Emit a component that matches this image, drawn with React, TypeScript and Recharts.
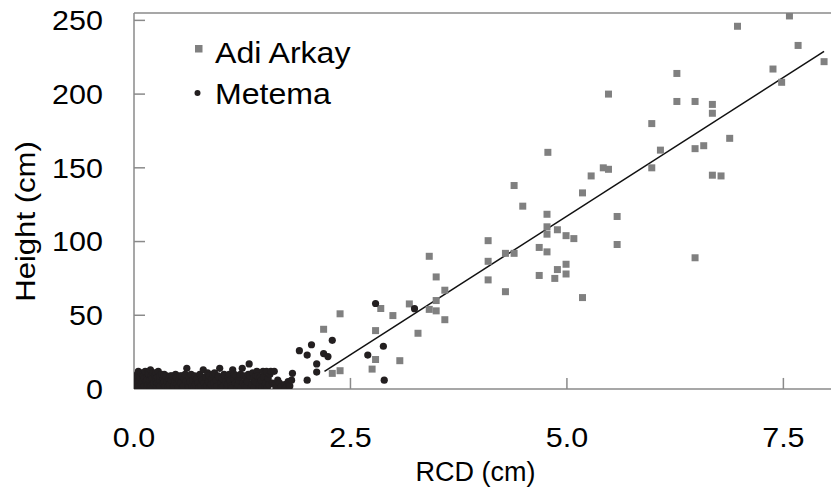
import { Legend, ReferenceLine, Scatter, ScatterChart, XAxis, YAxis } from "recharts";

// RCD (cm), Height (cm)
const adiArkay: [number, number][] = [
  [2.19, 40.5], [2.29, 10.6], [2.38, 51], [2.38, 12.4], [2.75, 13.5], [2.79, 20], [2.79, 39.6],
  [2.85, 54.6], [2.99, 49.8], [3.07, 19.2], [3.18, 57.7], [3.28, 37.8], [3.41, 90], [3.41, 54],
  [3.49, 76], [3.49, 60], [3.49, 53], [3.59, 67], [3.59, 47], [4.09, 100.6], [4.09, 86.6],
  [4.09, 74], [4.29, 92], [4.29, 66], [4.39, 138], [4.39, 92], [4.49, 124], [4.68, 96],
  [4.68, 77], [4.78, 160.5], [4.77, 118.5], [4.77, 110], [4.77, 105], [4.77, 93], [4.89, 108],
  [4.89, 81], [4.86, 75], [4.99, 104], [4.99, 84.6], [4.99, 78], [5.08, 102], [5.18, 133],
  [5.18, 62], [5.28, 144.5], [5.42, 150], [5.48, 149], [5.48, 200], [5.58, 117], [5.58, 98],
  [5.98, 180], [5.98, 150], [6.08, 162], [6.27, 214], [6.27, 195], [6.48, 195], [6.48, 163],
  [6.48, 89], [6.58, 165], [6.68, 193], [6.68, 187], [6.68, 145], [6.78, 144.5], [6.88, 170],
  [6.97, 246], [7.38, 217], [7.48, 208], [7.57, 253], [7.67, 233], [7.97, 222]
];

const metema: [number, number][] = [
  [0.01, 1], [0.01, 5], [0.02, 3], [0.02, 9], [0.03, 7], [0.04, 10], [0.04, 1.5], [0.05, 5],
  [0.05, 12], [0.05, 8], [0.06, 2], [0.06, 6], [0.07, 8], [0.08, 11], [0.08, 3], [0.09, 4],
  [0.1, 6], [0.1, 1], [0.1, 10], [0.11, 9], [0.12, 2], [0.12, 7], [0.13, 12], [0.14, 5],
  [0.15, 8], [0.15, 1], [0.15, 6], [0.16, 3], [0.16, 11], [0.17, 10], [0.18, 6], [0.18, 2],
  [0.19, 13], [0.2, 2], [0.2, 9], [0.21, 7], [0.22, 11], [0.22, 1], [0.23, 4], [0.24, 9],
  [0.25, 5], [0.25, 11], [0.25, 7], [0.26, 1.5], [0.27, 8], [0.27, 4], [0.28, 12], [0.29, 3],
  [0.3, 6], [0.3, 1.5], [0.3, 9], [0.32, 10], [0.33, 4], [0.34, 7], [0.35, 5], [0.35, 10],
  [0.36, 2], [0.37, 9], [0.38, 5], [0.39, 1], [0.4, 7], [0.41, 3], [0.42, 9], [0.43, 6],
  [0.44, 9], [0.45, 1], [0.46, 2], [0.47, 5], [0.48, 10], [0.49, 8], [0.5, 3], [0.51, 1],
  [0.52, 6], [0.53, 9], [0.54, 4], [0.55, 9], [0.56, 1], [0.57, 2], [0.58, 7], [0.59, 10],
  [0.6, 5], [0.61, 14], [0.62, 3], [0.63, 1], [0.64, 8], [0.65, 5], [0.66, 10], [0.67, 2],
  [0.68, 6], [0.69, 1], [0.7, 9], [0.71, 3], [0.72, 6], [0.73, 7], [0.74, 4], [0.75, 1],
  [0.76, 10], [0.77, 2], [0.78, 8], [0.79, 6], [0.8, 13], [0.81, 4], [0.82, 1], [0.83, 8],
  [0.84, 2], [0.85, 11], [0.86, 5], [0.87, 9], [0.88, 1], [0.89, 3], [0.9, 7], [0.91, 10],
  [0.92, 4], [0.93, 11], [0.94, 1], [0.95, 6], [0.96, 2], [0.97, 9], [0.98, 8], [0.99, 14],
  [1.0, 4], [1.01, 1], [1.02, 7], [1.03, 2], [1.04, 10], [1.05, 9], [1.06, 5], [1.07, 1],
  [1.08, 3], [1.09, 8], [1.1, 10], [1.11, 6], [1.12, 2], [1.13, 1], [1.14, 13], [1.15, 7],
  [1.16, 10], [1.17, 4], [1.18, 9], [1.19, 1], [1.2, 3], [1.21, 6], [1.22, 8], [1.23, 10],
  [1.24, 1], [1.25, 14], [1.26, 4], [1.27, 9], [1.28, 2], [1.29, 7], [1.3, 1], [1.31, 5],
  [1.32, 10], [1.33, 17], [1.34, 9], [1.35, 1], [1.36, 3], [1.37, 11], [1.38, 7], [1.39, 1],
  [1.4, 5], [1.41, 9], [1.42, 12], [1.43, 9], [1.44, 1], [1.45, 3], [1.46, 8], [1.47, 6],
  [1.48, 1], [1.49, 12], [1.5, 8], [1.51, 2], [1.52, 4], [1.53, 12], [1.54, 1], [1.55, 7],
  [1.56, 3], [1.57, 10], [1.58, 12], [1.6, 4], [1.62, 12], [1.63, 3], [1.64, 1], [1.66, 6],
  [1.68, 4], [1.7, 1.5], [1.74, 3], [1.75, 0.8], [1.78, 5], [1.79, 3], [1.8, 2], [1.82, 6],
  [1.83, 10.6], [1.91, 26], [2.0, 23], [2.0, 6], [2.05, 30], [2.11, 17], [2.11, 11.5],
  [2.19, 24], [2.24, 22], [2.29, 33], [2.7, 23], [2.79, 58], [2.88, 29], [2.89, 6], [3.24, 54.5]
];

// fitted line end points
const trendRcd = [2.2, 7.97];
const trendHeight = [12, 229];

const xTicks = [0, 2.5, 5, 7.5];
const yTicks = [0, 50, 100, 150, 200, 250];

const FONT = "'Liberation Sans', Arial, sans-serif";
const AXIS = "#8a8a8a";
const GREY = "#808080";
const DARK = "#231f20";

const adiData = adiArkay.map(([rcd, height]) => ({ rcd, height }));
const metemaData = metema.map(([rcd, height]) => ({ rcd, height }));

type TickProps = { x?: number; y?: number; payload?: { value: number } };

function XTick({ x = 0, y = 0, payload }: TickProps) {
  return (
    <g transform={`translate(${x} ${y}) scale(1.09 1)`}>
      <text x={0} y={0} dy="0.71em" textAnchor="middle" fontFamily={FONT} fontSize={28} fill="#000">
        {payload ? payload.value.toFixed(1) : ""}
      </text>
    </g>
  );
}

function YTick({ x = 0, y = 0, payload }: TickProps) {
  return (
    <g transform={`translate(${x} ${y}) scale(1.09 1)`}>
      <text x={0} y={0} dy="0.355em" textAnchor="end" fontFamily={FONT} fontSize={28} fill="#000">
        {payload ? payload.value : ""}
      </text>
    </g>
  );
}

function SquareDot({ cx, cy }: { cx?: number; cy?: number }) {
  if (cx == null || cy == null) return null;
  return <rect x={cx - 3.5} y={cy - 3.5} width={7} height={7} fill={GREY} />;
}

function RoundDot({ cx, cy }: { cx?: number; cy?: number }) {
  if (cx == null || cy == null) return null;
  return <circle cx={cx} cy={cy} r={3.6} fill={DARK} />;
}

function LegendBox() {
  return (
    <svg width={200} height={90} style={{ display: "block" }}>
      <rect x={15} y={15} width={7.5} height={7.5} fill={GREY} />
      <g transform="translate(35 33.3) scale(1.07 1)">
        <text x={0} y={0} fontFamily={FONT} fontSize={30} fill="#000">Adi Arkay</text>
      </g>
      <circle cx={17.5} cy={63} r={3} fill={DARK} />
      <g transform="translate(35 74) scale(1.07 1)">
        <text x={0} y={0} fontFamily={FONT} fontSize={30} fill="#000">Metema</text>
      </g>
    </svg>
  );
}

function YTitle({ viewBox }: { viewBox?: { x: number; y: number; width: number; height: number } }) {
  if (!viewBox) return null;
  const cx = viewBox.x + 25;
  const cy = viewBox.y + viewBox.height / 2 + 20.5;
  return (
    <g transform={`translate(${cx} ${cy}) rotate(-90) scale(1.11 1)`}>
      <text x={0} y={0} textAnchor="middle" dominantBaseline="central" fontFamily={FONT} fontSize={28} fill="#000">
        Height (cm)
      </text>
    </g>
  );
}

function XTitle({ viewBox }: { viewBox?: { x: number; y: number; width: number; height: number } }) {
  if (!viewBox) return null;
  return (
    <text
      x={viewBox.x + viewBox.width / 2 - 7}
      y={viewBox.y + viewBox.height - 14}
      textAnchor="middle"
      fontFamily={FONT}
      fontSize={27}
      fill="#000"
    >
      RCD (cm)
    </text>
  );
}

export default function App() {
  return (
    <div style={{ position: "absolute", left: 0, top: 0, width: 831, height: 495, background: "#fff" }}>
      <ScatterChart width={831} height={495} margin={{ top: 13, right: 0, bottom: 0, left: 0 }}>
        <XAxis
          type="number"
          dataKey="rcd"
          domain={[0, 8.05]}
          ticks={xTicks}
          allowDataOverflow
          height={106}
          tickSize={0}
          tickMargin={38}
          axisLine={{ stroke: AXIS, strokeWidth: 1.5 }}
          tick={<XTick />}
          label={<XTitle />}
        />
        <YAxis
          type="number"
          dataKey="height"
          domain={[0, 255]}
          ticks={yTicks}
          allowDataOverflow
          width={134}
          tickSize={0}
          tickMargin={31}
          axisLine={{ stroke: AXIS, strokeWidth: 1.5 }}
          tick={<YTick />}
          label={<YTitle />}
        />
        <ReferenceLine y={255} stroke={AXIS} strokeWidth={1.5} />
        {xTicks.slice(1).map((t) => (
          <ReferenceLine key={`xt${t}`} segment={[{ x: t, y: 0 }, { x: t, y: 7.5 }]} stroke={AXIS} strokeWidth={1.5} />
        ))}
        {yTicks.slice(1).map((t) => (
          <ReferenceLine key={`yt${t}`} segment={[{ x: 0, y: t }, { x: 0.127, y: t }]} stroke={AXIS} strokeWidth={1.5} />
        ))}
        <Legend
          layout="vertical"
          align="center"
          verticalAlign="middle"
          wrapperStyle={{ left: 180, top: 30, width: 200, height: 90 }}
          content={<LegendBox />}
        />
        <Scatter name="Adi Arkay" data={adiData} fill={GREY} shape={<SquareDot />} isAnimationActive={false} />
        <Scatter name="Metema" data={metemaData} fill={DARK} shape={<RoundDot />} isAnimationActive={false} />
        <ReferenceLine
          segment={[
            { x: trendRcd[0], y: trendHeight[0] },
            { x: trendRcd[1], y: trendHeight[1] }
          ]}
          stroke="#111"
          strokeWidth={1.5}
        />
      </ScatterChart>
    </div>
  );
}
